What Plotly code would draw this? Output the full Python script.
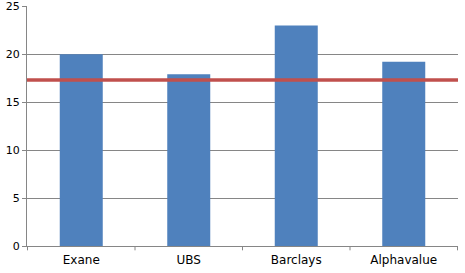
import plotly.graph_objects as go

categories = ["Exane", "UBS", "Barclays", "Alphavalue"]
values = [20.0, 17.9, 23.0, 19.2]
average = 17.3
y_ticks = [0, 5, 10, 15, 20, 25]

fig = go.Figure()
fig.add_trace(go.Bar(x=categories, y=values, marker=dict(color="#4F81BD", line=dict(width=0)),
                     width=0.4, showlegend=False))
fig.add_trace(go.Scatter(x=[0, 1], y=[average, average], xaxis="x2", mode="lines",
                         line=dict(color="#C0504D", width=3.5), showlegend=False))

xfont = dict(family="DejaVu Sans", size=12, color="#000000")
yfont = dict(family="DejaVu Sans", size=11, color="#000000")
fig.update_layout(
    width=465, height=273,
    margin=dict(l=27, r=7, t=6, b=27, autoexpand=False),
    plot_bgcolor="white", paper_bgcolor="white",
    font=yfont,
    bargap=0.6,
    xaxis=dict(type="category", showgrid=False, showline=True, linecolor="#868686", linewidth=1,
               ticks="", tickfont=xfont, ticklabelstandoff=3, automargin=False),
    xaxis2=dict(overlaying="x", range=[0, 1], visible=False),
    yaxis=dict(range=[0, 25.02], tickvals=y_ticks, showgrid=True, gridcolor="#868686", gridwidth=1,
               showline=True, linecolor="#868686", linewidth=1, ticks="outside", ticklen=4,
               tickcolor="#868686", tickfont=yfont, zeroline=False, automargin=False),
)
# category separator ticks on the x axis
for i in range(len(categories) + 1):
    fig.add_shape(type="line", xref="x", yref="paper", x0=i - 0.5, x1=i - 0.5, y0=0, y1=-0.018,
                  line=dict(color="#868686", width=1))
fig.write_html("out.html")
